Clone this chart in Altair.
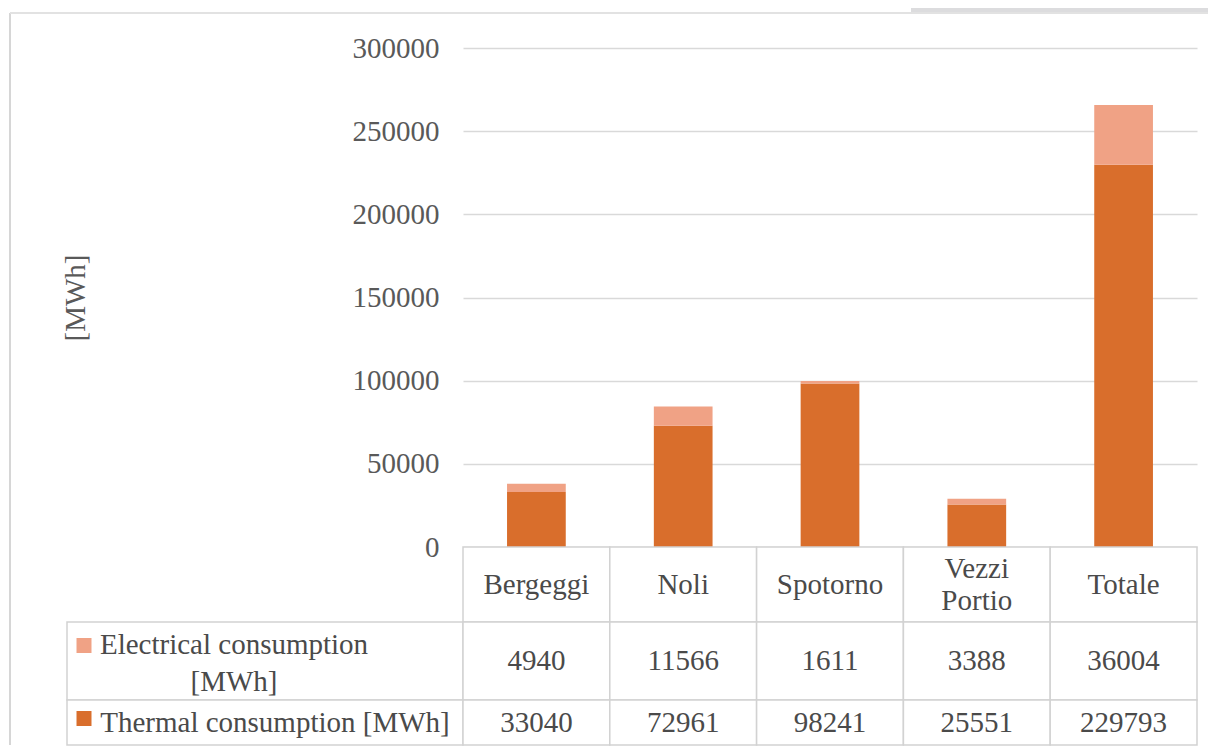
import altair as alt
import pandas as pd

# ---------------- data ----------------
categories = ["Bergeggi", "Noli", "Spotorno", "Vezzi Portio", "Totale"]
electrical = [4940, 11566, 1611, 3388, 36004]
thermal = [33040, 72961, 98241, 25551, 229793]
series_names = ["Electrical consumption [MWh]", "Thermal consumption [MWh]"]
series_labels = ["Electrical consumption\n[MWh]", "Thermal consumption [MWh]"]
y_ticks = [0, 50000, 100000, 150000, 200000, 250000, 300000]

# ---------------- style ----------------
series_colors = ["#F0A285", "#D96E2C"]
FONT = "Liberation Serif"
TXT = "#4a4a4a"
AX = "#595959"
GRID = "#d9d9d9"
BORDER = "#d2d2d2"
PLOT_W = 734
PLOT_H = 499
FS = 29

rows = []
for i, c in enumerate(categories):
    rows.append({"Category": c, "series": series_names[1], "value": thermal[i], "stack": 0})
    rows.append({"Category": c, "series": series_names[0], "value": electrical[i], "stack": 1})
bars_df = pd.DataFrame(rows)
one = pd.DataFrame({"k": [0]})

color_scale = alt.Scale(domain=series_names, range=series_colors)

bars = alt.Chart(bars_df).mark_bar().encode(
    x=alt.X("Category:N", sort=categories, axis=None,
            scale=alt.Scale(paddingInner=0.6, paddingOuter=0.3)),
    y=alt.Y("value:Q", stack="zero", scale=alt.Scale(domain=[0, 300000]),
            axis=alt.Axis(values=y_ticks, format="d", title="[MWh]",
                          domain=False, ticks=False, tickSize=0,
                          labelFont=FONT, labelFontSize=FS, labelColor=AX,
                          labelPadding=24, gridColor=GRID, gridWidth=1.5,
                          titleFont=FONT, titleFontSize=FS, titleFontWeight="normal",
                          titleColor=AX, titlePadding=262)),
    color=alt.Color("series:N", scale=color_scale, legend=None),
    order=alt.Order("stack:Q"),
)

frame_left = alt.Chart(one).mark_rule(color="#d6d6d6", strokeWidth=2).encode(
    x=alt.value(-453), y=alt.value(-35), y2=alt.value(PLOT_H + 198))
frame_top = alt.Chart(one).mark_rule(color="#e2e2e2", strokeWidth=2).encode(
    x=alt.value(-453), x2=alt.value(745), y=alt.value(-35))
grey_box = alt.Chart(one).mark_rect(color="#dcdcde").encode(
    x=alt.value(448), x2=alt.value(745), y=alt.value(-40), y2=alt.value(-36))

top = alt.layer(bars, frame_left, frame_top, grey_box).properties(width=PLOT_W, height=PLOT_H)

x_cells = alt.X("Category:N", sort=categories, axis=None,
                scale=alt.Scale(paddingInner=0, paddingOuter=0))


def cell_rect(df, x):
    return alt.Chart(df).mark_rect(fill="white", stroke=BORDER, strokeWidth=1.5).encode(x=x)


head_df = pd.DataFrame({"Category": categories})
head_df["nl"] = head_df["Category"].str.count(" ")
header = alt.layer(
    cell_rect(head_df, x_cells),
    alt.Chart(head_df.query("nl == 0")).mark_text(
        font=FONT, fontSize=FS, color=TXT).encode(x=x_cells, text="Category:N"),
    alt.Chart(head_df.query("nl > 0")).mark_text(
        font=FONT, fontSize=FS, color=TXT, lineBreak=" ", lineHeight=32, dy=-16
    ).encode(x=x_cells, text="Category:N"),
).properties(width=PLOT_W, height=75)


def table_row(idx, values, height, text_dx, text_dy, sq_dy, line_h):
    df = pd.DataFrame({"Category": categories, "value": values})
    lab_df = pd.DataFrame({"lab": [series_labels[idx]], "series": [series_names[idx]]})
    x_lab = alt.X("lab:N", axis=None,
                  scale=alt.Scale(range=[-396, 0], paddingInner=0, paddingOuter=0))
    lab_cell = cell_rect(lab_df, x_lab)
    cells = cell_rect(df, x_cells)
    lab_text = alt.Chart(lab_df).mark_text(
        font=FONT, fontSize=FS, color=TXT, lineBreak="\n", lineHeight=line_h,
        dx=text_dx, dy=text_dy
    ).encode(x=x_lab, text="lab:N")
    lab_sq = alt.Chart(lab_df).mark_square(
        size=225, opacity=1, xOffset=-181, yOffset=sq_dy
    ).encode(x=x_lab, color=alt.Color("series:N", scale=color_scale, legend=None))
    vals = alt.Chart(df).mark_text(font=FONT, fontSize=FS, color=TXT).encode(
        x=x_cells, text=alt.Text("value:Q", format="d"))
    return alt.layer(lab_cell, cells, lab_text, vals, lab_sq).resolve_scale(
        x="independent").properties(width=PLOT_W, height=height)


elec_row = table_row(0, electrical, 78, -31, -16, -15.5, 37)
therm_row = table_row(1, thermal, 45, 10, 0, -4, 32)

chart = alt.vconcat(top, header, elec_row, therm_row, spacing=0, bounds="flush").properties(
    padding={"left": 1, "top": 0, "right": 0, "bottom": 0}, background="white"
).configure_view(stroke=None)

chart.save("out.html", embed_options={"renderer": "svg", "actions": False})
